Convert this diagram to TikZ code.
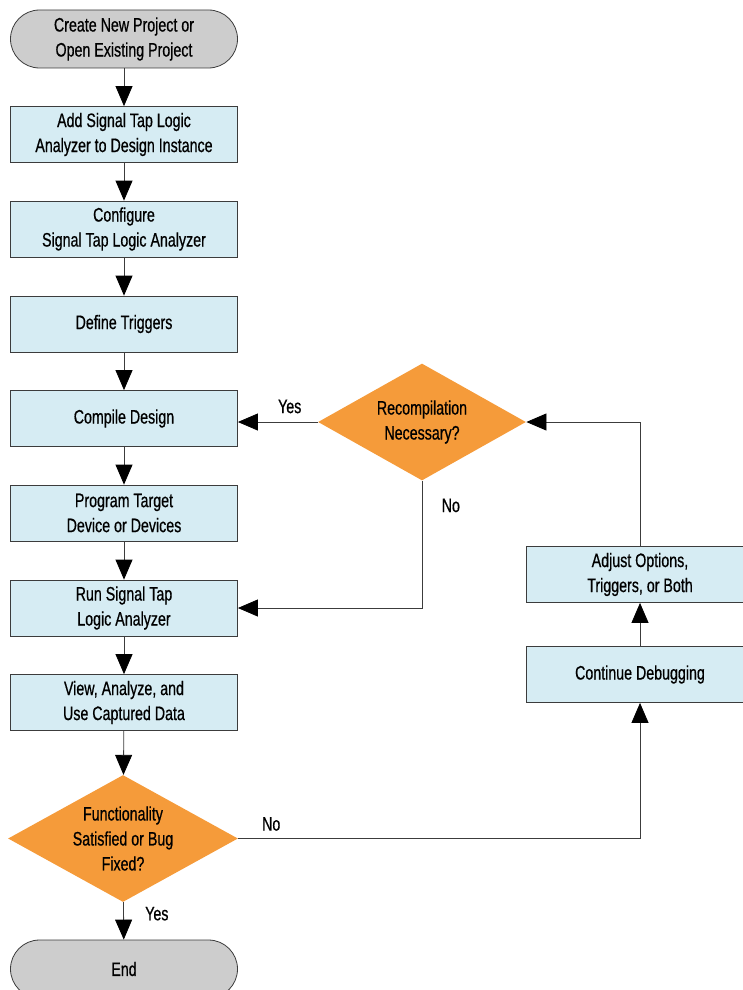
\documentclass[tikz,border=0pt]{standalone}
\usepackage{fontspec}
\setmainfont{Liberation Sans}[FakeStretch=0.73, FakeBold=0.6]
\usetikzlibrary{shapes.geometric, arrows.meta}

\definecolor{boxblue}{RGB}{214,236,243}
\definecolor{askorange}{RGB}{245,155,58}
\definecolor{endgray}{RGB}{205,205,205}
\definecolor{linegray}{RGB}{60,60,60}

\tikzset{
  every node/.style={font=\fontsize{19.5}{25}\selectfont},
  stepbox/.style={draw=linegray, fill=boxblue, minimum width=227pt, minimum height=56pt, align=center, inner sep=0pt},
  terminal/.style={draw=linegray, fill=endgray, rounded corners=29pt, minimum width=227pt, minimum height=58pt, align=center, inner sep=0pt},
  decision/.style={diamond, fill=askorange, inner sep=0pt},
  flow/.style={draw=linegray, line width=0.8pt, -{Triangle[width=17pt,length=20pt,color=black]}}
}

\begin{document}
\begin{tikzpicture}[x=1pt, y=-1pt, line width=0.8pt]
    \useasboundingbox (0,0) rectangle (742,990);

    % Main column
    \node[terminal] (start) at (124,39) {Create New Project or\\Open Existing Project};
    \node[stepbox] (addtap) at (124,134.5) {Add Signal Tap Logic\\Analyzer to Design Instance};
    \node[stepbox] (config) at (124,229) {Configure\\Signal Tap Logic Analyzer};
    \node[stepbox] (trig) at (124,324) {Define Triggers};
    \node[stepbox] (compile) at (124,418.5) {Compile Design};
    \node[stepbox] (program) at (124,513) {Program Target\\Device or Devices};
    \node[stepbox] (run) at (124,608) {Run Signal Tap\\Logic Analyzer};
    \node[stepbox] (view) at (124,702.5) {View, Analyze, and\\Use Captured Data};
    \node[decision, minimum width=230pt, minimum height=127pt,
          label={[align=center]center:Functionality\\Satisfied or Bug\\Fixed?}] (func) at (123,838.5) {};
    \node[terminal] (finish) at (124,969) {End};

    % Right side
    \node[decision, minimum width=208pt, minimum height=117pt,
          label={[align=center]center:Recompilation\\Necessary?}] (recomp) at (422,422) {};
    \node[stepbox] (adjust) at (640,574.5) {Adjust Options,\\Triggers, or Both};
    \node[stepbox] (cont) at (640,674.5) {Continue Debugging};

    % Arrows down the column
    \draw[flow] (start) -- (addtap);
    \draw[flow] (addtap) -- (config);
    \draw[flow] (config) -- (trig);
    \draw[flow] (trig) -- (compile);
    \draw[flow] (compile) -- (program);
    \draw[flow] (program) -- (run);
    \draw[flow] (run) -- (view);
    \draw[flow] (view) -- (func);
    \draw[flow] (func) -- node[at start, anchor=north west, xshift=18pt, yshift=-1pt] {Yes} (finish);

    % Debug loop
    \draw[flow] (func.east) -- node[at start, anchor=south west, xshift=20pt, yshift=4pt] {No} (func.east -| cont.south) -- (cont.south);
    \draw[flow] (cont) -- (adjust);
    \draw[flow] (adjust.north) |- (recomp.east);
    \draw[flow] (recomp.west) -- node[pos=0.35, above=5pt] {Yes} (recomp.west -| compile.east);
    \draw[flow] (recomp.south) -- node[at start, anchor=north west, xshift=16pt, yshift=-14pt] {No} (recomp.south |- run.east) -- (run.east);
\end{tikzpicture}
\end{document}
